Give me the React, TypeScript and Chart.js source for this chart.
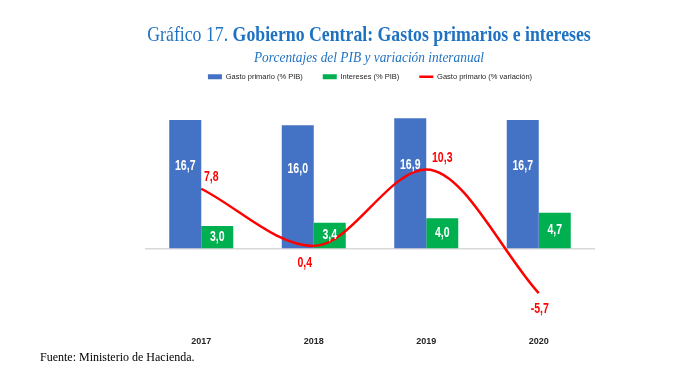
import React, { useEffect, useRef } from "react";
import { Chart, registerables } from "chart.js";

Chart.register(...registerables);

const categories = ["2017", "2018", "2019", "2020"];
const gastoPrimarioPIB = [16.7, 16.0, 16.9, 16.7];
const interesesPIB = [3.0, 3.4, 4.0, 4.7];
const gastoPrimarioVar = [7.8, 0.4, 10.3, -5.7];
const seriesNames = ["Gasto primario (% PIB)", "Intereses (% PIB)", "Gasto primario (% variación)"];

// label offsets (style) for the line series labels, in px
const lineLabelOffsets: [number, number][] = [[10, -12], [-9, 17], [16, -11], [1, 16]];

const SANS = '"Liberation Sans", Arial, sans-serif';
const SERIF = '"Liberation Serif", "Times New Roman", serif';
const fmt = (v: number) => v.toFixed(1).replace(".", ",");

function narrowText(ctx: CanvasRenderingContext2D, text: string, x: number, y: number) {
  ctx.save();
  ctx.translate(x, y);
  ctx.scale(0.75, 1);
  ctx.fillText(text, 0, 0);
  ctx.restore();
}

const valueLabels = {
  id: "valueLabels",
  afterDatasetsDraw(chart: any) {
    const ctx = chart.ctx as CanvasRenderingContext2D;
    ctx.save();
    ctx.textAlign = "center";
    ctx.textBaseline = "middle";
    ctx.font = `bold 14px ${SANS}`;
    [0, 1].forEach((di) => {
      const meta = chart.getDatasetMeta(di);
      meta.data.forEach((el: any, i: number) => {
        const p = el.getProps(["x", "y", "base"], true);
        const v = chart.data.datasets[di].data[i] as number;
        const frac = di === 0 ? 0.36 : 0.5;
        ctx.fillStyle = "#ffffff";
        narrowText(ctx, fmt(v), p.x, p.y + (p.base - p.y) * frac);
      });
    });
    const lm = chart.getDatasetMeta(2);
    ctx.fillStyle = "#ff0000";
    lm.data.forEach((el: any, i: number) => {
      const p = el.getProps(["x", "y"], true);
      const [dx, dy] = lineLabelOffsets[i];
      narrowText(ctx, fmt(gastoPrimarioVar[i]), p.x + dx, p.y + dy);
    });
    ctx.restore();
  },
};

export default function App() {
  const ref = useRef<HTMLCanvasElement>(null);
  useEffect(() => {
    const chart = new Chart(ref.current!, {
      type: "bar",
      data: {
        labels: categories,
        datasets: [
          {
            type: "bar",
            label: seriesNames[0],
            data: gastoPrimarioPIB,
            backgroundColor: "#4472C4",
            pointStyle: "rect",
            order: 1,
            categoryPercentage: 0.569,
            barPercentage: 1,
          } as any,
          {
            type: "bar",
            label: seriesNames[1],
            data: interesesPIB,
            backgroundColor: "#00B050",
            pointStyle: "rect",
            order: 1,
            categoryPercentage: 0.569,
            barPercentage: 1,
          } as any,
          {
            type: "line",
            label: seriesNames[2],
            data: gastoPrimarioVar,
            borderColor: "#FF0000",
            backgroundColor: "#FF0000",
            borderWidth: 2.5,
            pointRadius: 0,
            pointStyle: "line",
            cubicInterpolationMode: "monotone",
            order: 0,
          } as any,
        ],
      },
      options: {
        responsive: false,
        animation: false,
        layout: { padding: { left: 145, right: 91, top: 53, bottom: 3 } },
        plugins: {
          tooltip: { enabled: false },
          legend: {
            position: "top",
            labels: {
              usePointStyle: true,
              pointStyleWidth: 14,
              boxHeight: 5,
              padding: 20,
              color: "#262626",
              font: { size: 7.5, family: SANS },
              sort: (a: any, b: any) => a.datasetIndex - b.datasetIndex,
            },
          },
        },
        scales: {
          x: {
            grid: { display: false },
            border: { display: false },
            ticks: {
              color: "#262626",
              padding: 18,
              font: { size: 9, weight: "bold", family: SANS },
            },
          },
          y: {
            min: -7.9,
            max: 20.5,
            border: { display: false },
            ticks: { display: false, stepSize: 5 },
            grid: {
              drawTicks: false,
              color: (c: any) => (c.tick && c.tick.value === 0 ? "#d9d9d9" : "rgba(0,0,0,0)"),
              lineWidth: 1.5,
            },
          },
        },
      },
      plugins: [valueLabels],
    });
    return () => chart.destroy();
  }, []);

  return (
    <div
      style={{
        position: "absolute",
        left: 0,
        top: 0,
        width: 686,
        height: 368,
        background: "#ffffff",
        overflow: "hidden",
      }}
    >
      <canvas
        ref={ref}
        width={686}
        height={368}
        style={{ position: "absolute", left: 0, top: 0, width: 686, height: 368 }}
      />
      <div
        style={{
          position: "absolute",
          left: 52,
          width: 634,
          top: 23,
          textAlign: "center",
          fontFamily: SERIF,
          fontSize: 22,
          lineHeight: "22px",
          color: "#1f72c2",
          whiteSpace: "nowrap",
          transform: "scaleX(0.807)",
          transformOrigin: "50% 50%",
        }}
      >
        Gráfico 17. <b>Gobierno Central: Gastos primarios e intereses</b>
      </div>
      <div
        style={{
          position: "absolute",
          left: 52,
          width: 634,
          top: 51,
          textAlign: "center",
          fontFamily: SERIF,
          fontStyle: "italic",
          fontSize: 14,
          lineHeight: "14px",
          color: "#1f72c2",
          whiteSpace: "nowrap",
          transform: "scaleX(0.955)",
          transformOrigin: "50% 50%",
        }}
      >
        Porcentajes del PIB y variación interanual
      </div>
      <div
        style={{
          position: "absolute",
          left: 40,
          top: 350,
          fontFamily: SERIF,
          fontSize: 12,
          lineHeight: "14px",
          color: "#000000",
          whiteSpace: "nowrap",
        }}
      >
        Fuente: Ministerio de Hacienda.
      </div>
    </div>
  );
}
